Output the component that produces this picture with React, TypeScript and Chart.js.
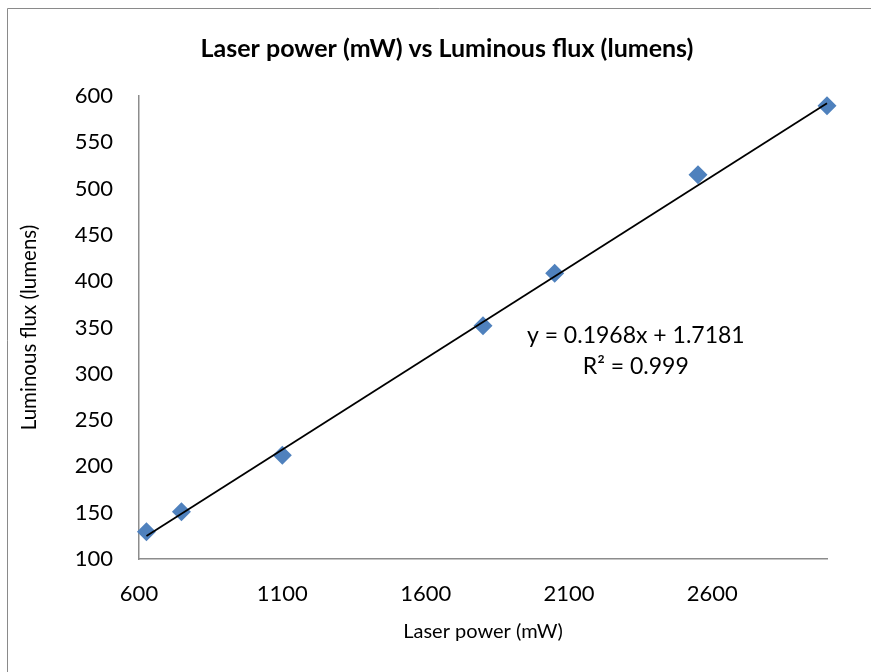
import React, { useEffect, useRef } from "react";
import { Chart, registerables } from "chart.js";

Chart.register(...registerables);

const laserPower = [626, 748, 1100, 1800, 2050, 2550, 3000];
const luminousFlux = [129.5, 151, 212, 352, 408.5, 515, 589.5];
const xTicks = [600, 1100, 1600, 2100, 2600];
const trendSlope = 0.1968;
const trendIntercept = 1.7181;
const equationLines = ["y = 0.1968x + 1.7181", "R² = 0.999"];
const chartTitle = "Laser power (mW) vs Luminous flux (lumens)";
const xTitle = "Laser power (mW)";
const yTitle = "Luminous flux (lumens)";

const FONT = "Lato, 'Open Sans', sans-serif";

export default function App() {
  const ref = useRef<HTMLCanvasElement | null>(null);

  useEffect(() => {
    if (!ref.current) return;
    const xMin = Math.min(...laserPower);
    const xMax = Math.max(...laserPower);
    const points = laserPower.map((x, i) => ({ x, y: luminousFlux[i] }));
    const trend = [
      { x: xMin, y: trendSlope * xMin + trendIntercept },
      { x: xMax, y: trendSlope * xMax + trendIntercept },
    ];

    const frame = {
      id: "frame",
      beforeDraw(chart: any) {
        const ctx = chart.ctx;
        ctx.save();
        ctx.strokeStyle = "#8a8a8a";
        ctx.lineWidth = 1;
        ctx.beginPath();
        ctx.moveTo(7.5, chart.height + 5);
        ctx.lineTo(7.5, 8.5);
        ctx.lineTo(chart.width + 5, 8.5);
        ctx.stroke();
        ctx.fillStyle = "#000";
        ctx.font = `bold 25px ${FONT}`;
        ctx.textAlign = "center";
        ctx.textBaseline = "middle";
        ctx.fillText(chartTitle, 447, 49);
        ctx.restore();
      },
    };

    const equation = {
      id: "equation",
      afterDatasetsDraw(chart: any) {
        const ctx = chart.ctx;
        const xs = chart.scales.x;
        const ys = chart.scales.y;
        const cx = xs.getPixelForValue(2333);
        const cy = ys.getPixelForValue(341);
        ctx.save();
        ctx.fillStyle = "#000";
        ctx.font = `23px ${FONT}`;
        ctx.textAlign = "center";
        ctx.textBaseline = "middle";
        ctx.fillText(equationLines[0], cx, cy);
        ctx.fillText(equationLines[1], cx, cy + 31);
        ctx.restore();
      },
    };

    const chart = new Chart(ref.current, {
      type: "scatter",
      data: {
        datasets: [
          {
            label: "Linear trend",
            data: trend,
            showLine: true,
            borderColor: "#000",
            borderWidth: 1.8,
            pointRadius: 0,
            fill: false,
            clip: false,
          },
          {
            label: "Luminous flux",
            data: points,
            pointStyle: "rectRot",
            pointRadius: 9.5,
            backgroundColor: "#4F81BD",
            borderColor: "#4F81BD",
            borderWidth: 0,
            clip: false,
          },
        ],
      },
      options: {
        responsive: false,
        animation: false,
        layout: { padding: { left: 0, right: 44, top: 96, bottom: 0 } },
        plugins: {
          legend: { display: false },
          tooltip: { enabled: false },
          title: { display: false },
        },
        scales: {
          x: {
            type: "linear",
            min: 600,
            max: 3000,
            grid: { display: false, drawTicks: false },
            border: { display: true, color: "#8c8c8c", width: 1.5 },
            afterBuildTicks: (s: any) => {
              s.ticks = xTicks.map((v) => ({ value: v }));
            },
            afterFit: (s: any) => {
              s.height = 113;
            },
            ticks: {
              color: "#000",
              font: { family: FONT, size: 22 },
              padding: 22,
              maxRotation: 0,
              callback: (v: any) => String(v),
            },
            title: {
              display: true,
              text: xTitle,
              color: "#000",
              font: { family: FONT, size: 20 },
              padding: { top: 0, bottom: 28 },
            },
          },
          y: {
            type: "linear",
            min: 100,
            max: 600,
            grid: { display: false, drawTicks: false },
            border: { display: true, color: "#8c8c8c", width: 1.5 },
            afterFit: (s: any) => {
              s.width = 139;
            },
            ticks: {
              stepSize: 50,
              color: "#000",
              font: { family: FONT, size: 22 },
              padding: 26,
              callback: (v: any) => String(v),
            },
            title: {
              display: true,
              text: yTitle,
              color: "#000",
              font: { family: FONT, size: 20.5 },
              padding: { top: 17, bottom: 0 },
            },
          },
        },
      },
      plugins: [frame, equation],
    });

    return () => chart.destroy();
  }, []);

  return (
    <div style={{ position: "fixed", left: 0, top: 0, width: 871, height: 672, background: "#fff" }}>
      <canvas ref={ref} width={871} height={672} style={{ display: "block" }} />
    </div>
  );
}
